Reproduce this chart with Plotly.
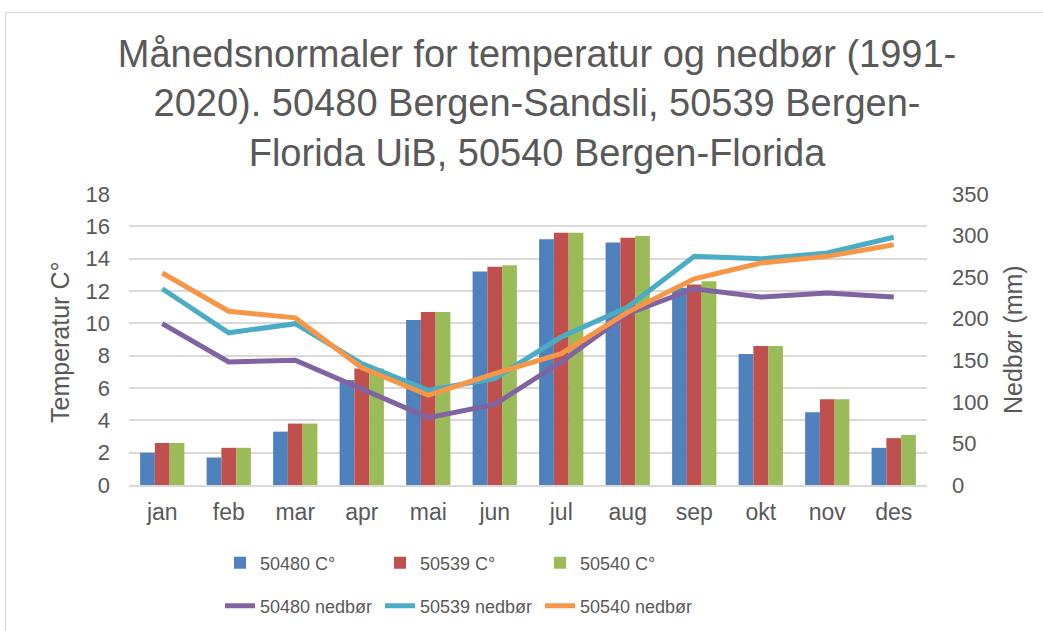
import plotly.graph_objects as go

months = ["jan", "feb", "mar", "apr", "mai", "jun", "jul", "aug", "sep", "okt", "nov", "des"]

temp_50480 = [2.0, 1.7, 3.3, 6.5, 10.2, 13.2, 15.2, 15.0, 12.2, 8.1, 4.5, 2.3]
temp_50539 = [2.6, 2.3, 3.8, 7.2, 10.7, 13.5, 15.6, 15.3, 12.4, 8.6, 5.3, 2.9]
temp_50540 = [2.6, 2.3, 3.8, 7.2, 10.7, 13.6, 15.6, 15.4, 12.6, 8.6, 5.3, 3.1]

prec_50480 = [194, 148, 150, 116, 81, 97, 148, 206, 236, 226, 231, 226]
prec_50539 = [236, 183, 194, 146, 114, 128, 178, 214, 275, 272, 279, 298]
prec_50540 = [255, 209, 201, 141, 108, 134, 158, 208, 248, 267, 275, 289]

FONT = "Liberation Sans, Arial, sans-serif"
TXT = "#595959"
GRID = "#D9D9D9"

fig = go.Figure()
for name, vals, col in [("50480 C°", temp_50480, "#4F81BD"),
                        ("50539 C°", temp_50539, "#C0504D"),
                        ("50540 C°", temp_50540, "#9BBB59")]:
    fig.add_trace(go.Bar(x=months, y=vals, name=name, marker_color=col,
                         marker_line_width=0, legend="legend"))

for name, vals, col in [("50480 nedbør", prec_50480, "#8064A2"),
                        ("50539 nedbør", prec_50539, "#4BACC6"),
                        ("50540 nedbør", prec_50540, "#F79646")]:
    fig.add_trace(go.Scatter(x=months, y=vals, name=name, mode="lines",
                             line=dict(color=col, width=5), yaxis="y2",
                             legend="legend2"))

W, H = 1043, 631
L, R, T, B = 129, 927, 194, 485
pw, ph = R - L, B - T


def px(xp):
    return (xp - L) / pw


def py(yp):
    return (B - yp) / ph


fig.update_layout(
    width=W, height=H,
    margin=dict(l=L, r=W - R, t=T, b=H - B, autoexpand=False),
    paper_bgcolor="white", plot_bgcolor="white",
    font=dict(family=FONT, color=TXT, size=22),
    barmode="group", bargap=0.334, bargroupgap=0,
    title=dict(text="Månedsnormaler for temperatur og nedbør (1991-<br>2020). 50480 Bergen-Sandsli, 50539 Bergen-<br>Florida UiB, 50540 Bergen-Florida",
               x=537 / W, xanchor="center", y=1 - 67 / H, yanchor="top",
               font=dict(size=38, color=TXT, family=FONT)),
    xaxis=dict(showgrid=False, showline=True, linecolor=GRID, linewidth=1.5,
               ticks="", tickfont=dict(size=23), ticklabelstandoff=6, automargin=False),
    yaxis=dict(range=[0, 18], dtick=2, showgrid=True, gridcolor=GRID, gridwidth=1.5,
               zeroline=False, showline=False, ticks="", tickfont=dict(size=22),
               ticklabelstandoff=18, automargin=False),
    yaxis2=dict(range=[0, 350], dtick=50, overlaying="y", side="right", showgrid=False,
                zeroline=False, showline=False, ticks="", tickfont=dict(size=22),
                ticklabelstandoff=24, automargin=False),
    legend=dict(orientation="h", x=px(220), xanchor="left",
                y=py(563), yanchor="middle", entrywidth=115,
                font=dict(size=18, color=TXT), bgcolor="rgba(0,0,0,0)"),
    legend2=dict(orientation="h", x=px(220), xanchor="left",
                 y=py(606), yanchor="middle", entrywidth=115,
                 font=dict(size=18, color=TXT), bgcolor="rgba(0,0,0,0)"),
    showlegend=True,
    annotations=[
        dict(text="Temperatur C°", xref="paper", yref="paper",
             x=px(60), y=py(343), xanchor="center", yanchor="middle",
             textangle=-90, showarrow=False, font=dict(size=25, color=TXT)),
        dict(text="Nedbør (mm)", xref="paper", yref="paper",
             x=px(1013), y=py(340), xanchor="center", yanchor="middle",
             textangle=-90, showarrow=False, font=dict(size=25, color=TXT)),
    ],
    shapes=[dict(type="rect", xref="paper", yref="paper",
                 x0=px(5.5), x1=px(1043 + 20),
                 y0=py(631 + 20), y1=py(12.5),
                 line=dict(color=GRID, width=1), fillcolor="rgba(0,0,0,0)", layer="below")],
)

fig.write_html("out.html", config={"displayModeBar": False},
               post_script="document.body.style.margin='0';")
